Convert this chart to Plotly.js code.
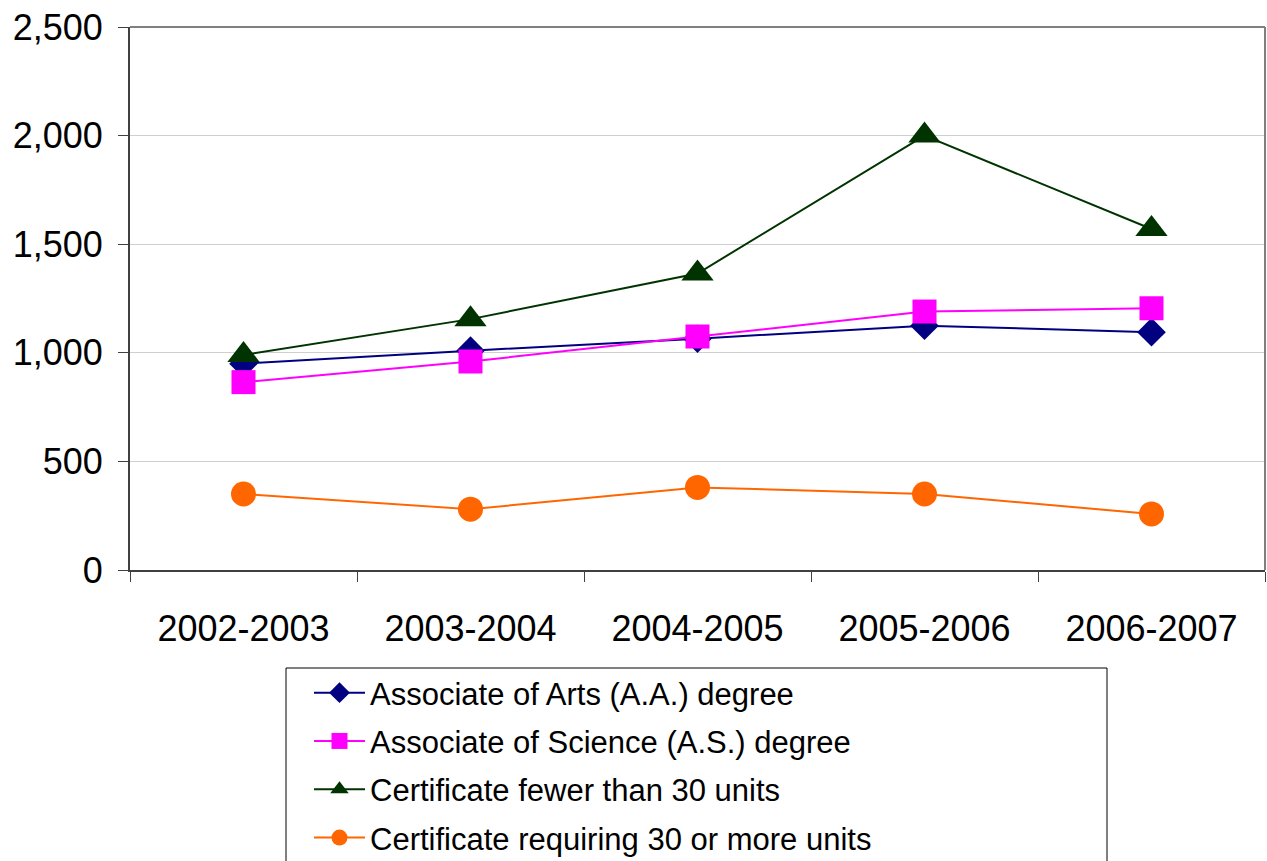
<!DOCTYPE html>
<html>
<head>
<meta charset="utf-8">
<script src="https://cdn.plot.ly/plotly-3.0.1.min.js"></script>
<style>html,body{margin:0;padding:0;background:#fff;}#chart{width:1267px;height:861px;}</style>
</head>
<body>
<div id="chart"></div>
<script>
const years = ["2002-2003", "2003-2004", "2004-2005", "2005-2006", "2006-2007"];
const associateArts = [950, 1010, 1065, 1125, 1095];
const associateScience = [865, 960, 1075, 1190, 1205];
const certFewer30 = [990, 1155, 1365, 2000, 1570];
const cert30More = [350, 280, 380, 350, 258];
const seriesNames = [
  "Associate of Arts (A.A.) degree",
  "Associate of Science (A.S.) degree",
  "Certificate fewer than 30 units",
  "Certificate requiring 30 or more units"
];

const FONT = "Liberation Sans, Arial, sans-serif";

function series(name, y, color, symbol, size, group) {
  return {
    type: "scatter", mode: "lines+markers", name: name, x: years, y: y,
    legendgroup: group,
    line: {color: color, width: 2},
    marker: {color: color, symbol: symbol, size: size, line: {width: 0}}
  };
}

const data = [
  series(seriesNames[0], associateArts, "#000080", "diamond", 22, "g1"),
  series(seriesNames[1], associateScience, "#FF00FF", "square", 24, "g2"),
  series(seriesNames[2], certFewer30, "#003300", "triangle-up", 28, "g3"),
  series(seriesNames[3], cert30More, "#FF6600", "circle", 25, "g4")
];

// plot area in pixels: x 130..1265, y 27..570
const px = v => (v - 130) / 1135;
const py = v => (570 - v) / 543;

const layout = {
  width: 1267, height: 861,
  margin: {l: 130, r: 2, t: 27, b: 291, autoexpand: false},
  paper_bgcolor: "#fff", plot_bgcolor: "#fff",
  font: {family: FONT, color: "#000"},
  showlegend: true,
  xaxis: {
    type: "category", range: [-0.5, 4.5], automargin: false,
    tickson: "boundaries", ticks: "outside", ticklen: 10, tickcolor: "#404040",
    showline: true, linecolor: "#404040", linewidth: 2,
    showgrid: false, zeroline: false,
    tickfont: {family: FONT, size: 36, color: "#000"},
    ticklabelstandoff: 26
  },
  yaxis: {
    range: [0, 2500], dtick: 500, tickformat: ",d", automargin: false,
    ticks: "outside", ticklen: 10, tickcolor: "#404040",
    showline: true, linecolor: "#404040", linewidth: 2,
    gridcolor: "#cfcfcf", gridwidth: 1, zeroline: false,
    tickfont: {family: FONT, size: 36, color: "#000"},
    ticklabelstandoff: 8
  },
  shapes: [
    {type: "line", xref: "paper", yref: "paper", x0: 0, x1: 1, y0: 1, y1: 1, line: {color: "#808080", width: 2}},
    {type: "line", xref: "paper", yref: "paper", x0: 1, x1: 1, y0: 0, y1: 1, line: {color: "#808080", width: 2}},
    {type: "rect", xref: "paper", yref: "paper", x0: px(286), x1: px(1107), y0: py(668), y1: py(900),
     line: {color: "#000", width: 1}, fillcolor: "rgba(0,0,0,0)"}
  ],
  legend: {
    x: px(309), xanchor: "left", y: py(666), yanchor: "top",
    bgcolor: "rgba(0,0,0,0)", borderwidth: 0,
    font: {family: FONT, size: 31, color: "#000"},
    tracegroupgap: 5, traceorder: "grouped",
    itemwidth: 51
  }
};

Plotly.newPlot("chart", data, layout, {displayModeBar: false, staticPlot: true});
</script>
</body>
</html>
